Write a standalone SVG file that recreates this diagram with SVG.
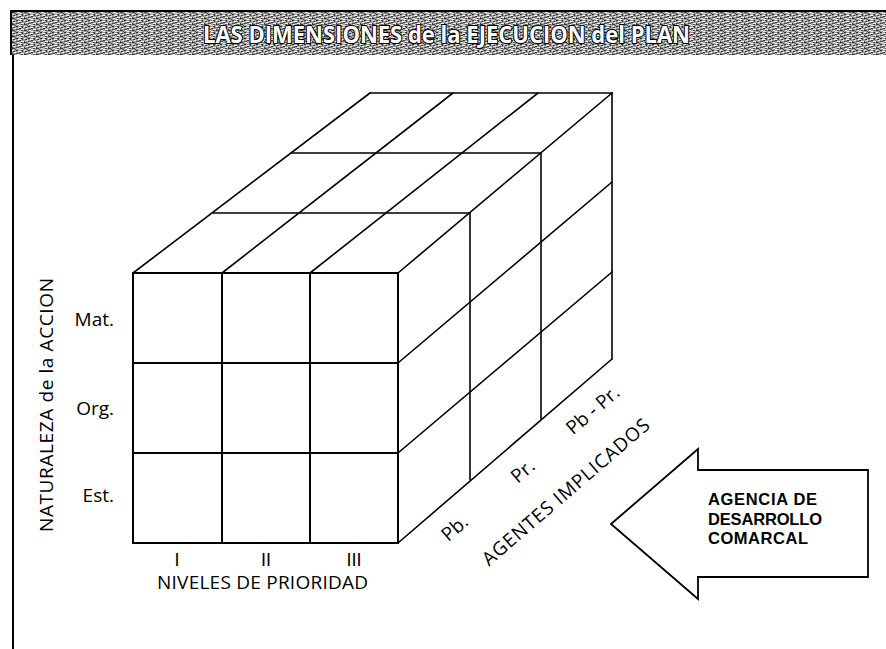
<svg xmlns="http://www.w3.org/2000/svg" width="886" height="649" viewBox="0 0 886 649">
<defs>
<pattern id="tex" width="12" height="6" patternUnits="userSpaceOnUse">
<rect width="12" height="6" fill="#a0a0a0"/>
<rect x="0" y="0" width="3" height="1" fill="#3c3c3c"/>
<rect x="5" y="0" width="2" height="1" fill="#f0f0f0"/>
<rect x="9" y="0" width="2" height="1" fill="#555"/>
<rect x="3" y="1" width="1" height="1" fill="#555"/>
<rect x="7" y="1" width="3" height="1" fill="#e8e8e8"/>
<rect x="4" y="2" width="2" height="1" fill="#2e2e2e"/>
<rect x="9" y="2" width="2" height="1" fill="#444"/>
<rect x="0" y="2" width="2" height="1" fill="#eee"/>
<rect x="1" y="3" width="2" height="1" fill="#444"/>
<rect x="6" y="3" width="3" height="1" fill="#f4f4f4"/>
<rect x="10" y="3" width="1" height="1" fill="#333"/>
<rect x="2" y="4" width="2" height="1" fill="#e6e6e6"/>
<rect x="7" y="4" width="2" height="1" fill="#3a3a3a"/>
<rect x="0" y="5" width="1" height="1" fill="#4a4a4a"/>
<rect x="4" y="5" width="3" height="1" fill="#505050"/>
<rect x="9" y="5" width="3" height="1" fill="#ececec"/>
</pattern>
<style>
.ln{stroke:#000;stroke-width:1.6;fill:none;stroke-linecap:round}
.fr{stroke:#000;stroke-width:2;fill:none}
.lb{font-family:"Open Sans","DejaVu Sans",sans-serif;font-size:19px;font-weight:400;fill:#000}
.rn{font-family:"Liberation Sans",sans-serif;font-size:18px;fill:#000}
.bt{font-family:"Liberation Sans","Open Sans",sans-serif;font-size:16.5px;font-weight:700;fill:#000}
.tt{font-family:"Open Sans","Liberation Sans",sans-serif;font-size:24px;font-weight:700;fill:#fff;stroke:#000;stroke-width:2.2;paint-order:stroke;stroke-linejoin:round}
</style>
</defs>
<rect width="886" height="649" fill="#fff"/>
<g id="header">
<rect x="11" y="11" width="876" height="44" fill="url(#tex)"/>
<path d="M11 55 V11 H886" stroke="#000" stroke-width="2" fill="none"/>
<text class="tt" x="203" y="43" textLength="487" lengthAdjust="spacingAndGlyphs">LAS DIMENSIONES de la EJECUCION del PLAN</text>
</g>
<line x1="13" y1="55" x2="13" y2="649" stroke="#000" stroke-width="2"/>
<g id="cube">
<polygon points="133,273 370,93 612,93 612,359 398,543 133,543" fill="#fff"/>
<g id="top-face" class="ln">
<line x1="133" y1="273" x2="370" y2="93"/>
<line x1="222" y1="273" x2="453" y2="93"/>
<line x1="310" y1="273" x2="538" y2="93"/>
<line x1="398" y1="273" x2="612" y2="93"/>
<line x1="213" y1="213" x2="470" y2="213"/>
<line x1="291" y1="153" x2="541" y2="153"/>
<line x1="370" y1="93" x2="612" y2="93"/>
</g>
<g id="right-face" class="ln">
<line x1="612" y1="93" x2="612" y2="359"/>
<line x1="541" y1="153" x2="541" y2="419"/>
<line x1="470" y1="213" x2="470" y2="480"/>
<line x1="398" y1="543" x2="612" y2="359"/>
<line x1="398" y1="453" x2="612" y2="272"/>
<line x1="398" y1="363" x2="612" y2="182"/>
</g>
<g id="front-face" class="fr">
<rect x="133" y="273" width="265" height="270"/>
<line x1="222" y1="273" x2="222" y2="543"/>
<line x1="310" y1="273" x2="310" y2="543"/>
<line x1="133" y1="363" x2="398" y2="363"/>
<line x1="133" y1="453" x2="398" y2="453"/>
</g>
</g>
<g id="labels">
<text class="lb" x="114" y="326" text-anchor="end">Mat.</text>
<text class="lb" x="114" y="415" text-anchor="end">Org.</text>
<text class="lb" x="114" y="502" text-anchor="end">Est.</text>
<text class="lb" transform="translate(53,405) rotate(-90)" text-anchor="middle" textLength="254">NATURALEZA de la ACCION</text>
<text class="rn" x="177" y="566" text-anchor="middle">I</text>
<text class="rn" x="266" y="566" text-anchor="middle">II</text>
<text class="rn" x="354" y="566" text-anchor="middle">III</text>
<text class="lb" x="262.5" y="589" text-anchor="middle" textLength="211">NIVELES DE PRIORIDAD</text>
<text class="lb" transform="translate(459,533) rotate(-40.7)" text-anchor="middle">Pb.</text>
<text class="lb" transform="translate(527,476) rotate(-40.7)" text-anchor="middle">Pr.</text>
<text class="lb" transform="translate(597,415) rotate(-40.7)" text-anchor="middle">Pb - Pr.</text>
<text class="lb" transform="translate(570,497) rotate(-40.7)" text-anchor="middle" textLength="214">AGENTES IMPLICADOS</text>
</g>
<g id="agencia">
<polygon points="611,524 698,449 698,470 868,470 868,577 698,577 698,599" fill="#fff" stroke="#000" stroke-width="1.8" stroke-linejoin="miter"/>
<text class="bt" x="708" y="505" textLength="109">AGENCIA DE</text>
<text class="bt" x="708" y="525" textLength="114">DESARROLLO</text>
<text class="bt" x="708" y="544" textLength="100">COMARCAL</text>
</g>
</svg>
